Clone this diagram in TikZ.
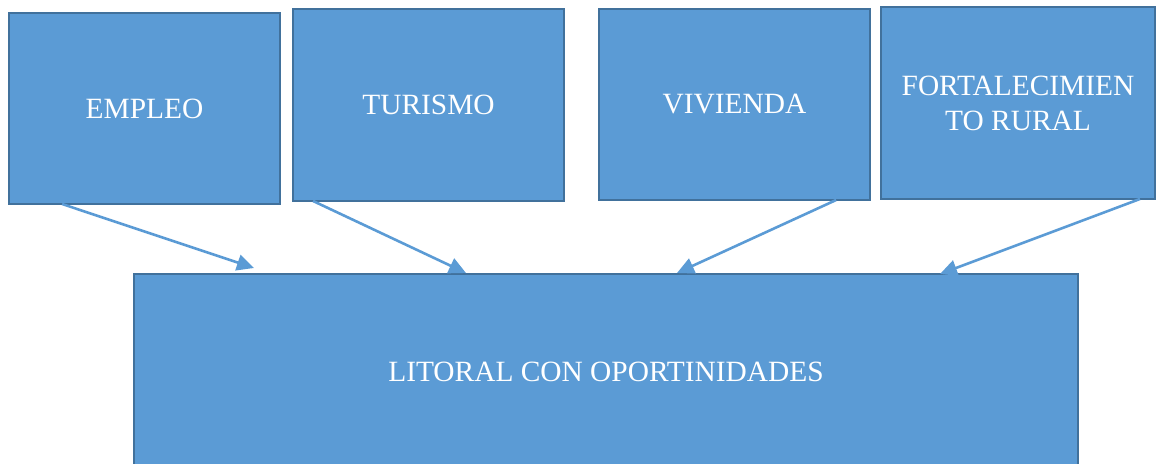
\documentclass[tikz,border=0pt]{standalone}
\usepackage{fontspec}
\setmainfont{Liberation Serif}
\usetikzlibrary{arrows.meta,calc}
\definecolor{boxfill}{HTML}{5B9BD5}
\definecolor{boxline}{HTML}{41719C}
\definecolor{arrowcol}{HTML}{5B9BD5}
\tikzset{
  bluebox/.style={draw=boxline, fill=boxfill, line width=2bp, rectangle, anchor=north west,
    inner sep=0pt, outer sep=0pt, text=white, align=center,
    font=\fontsize{29.4bp}{35bp}\selectfont},
  link/.style={draw=arrowcol, line width=2.6bp, -{Triangle[length=17bp,width=16bp]}}
}
\begin{document}
\begin{tikzpicture}[x=1bp,y=-1bp]
\useasboundingbox (0,0) rectangle (1157,464);
\clip (0,0) rectangle (1157,464);
\node[bluebox, minimum width=271bp, minimum height=191bp] (empleo) at (9,13) {EMPLEO};
\node[bluebox, minimum width=271bp, minimum height=192bp] (turismo) at (293,9) {TURISMO};
\node[bluebox, minimum width=271bp, minimum height=191bp] (vivienda) at (599,9) {VIVIENDA};
\node[bluebox, minimum width=274bp, minimum height=192bp] (fort) at (881,7) {FORTALECIMIEN\\TO RURAL};
\node[bluebox, minimum width=944bp, minimum height=196bp] (litoral) at (134,274) {LITORAL CON OPORTINIDADES};
\coordinate (t1) at (254,268);
\coordinate (t2) at (466,273);
\coordinate (t3) at (677,273);
\coordinate (t4) at (940,274);
\draw[link] ($(empleo.south west)!0.196!(empleo.south east)$) -- (t1);
\draw[link] ($(turismo.south west)!0.074!(turismo.south east)$) -- (t2);
\draw[link] ($(vivienda.south west)!0.875!(vivienda.south east)$) -- (t3);
\draw[link] ($(fort.south west)!0.945!(fort.south east)$) -- (t4);
\end{tikzpicture}
\end{document}
